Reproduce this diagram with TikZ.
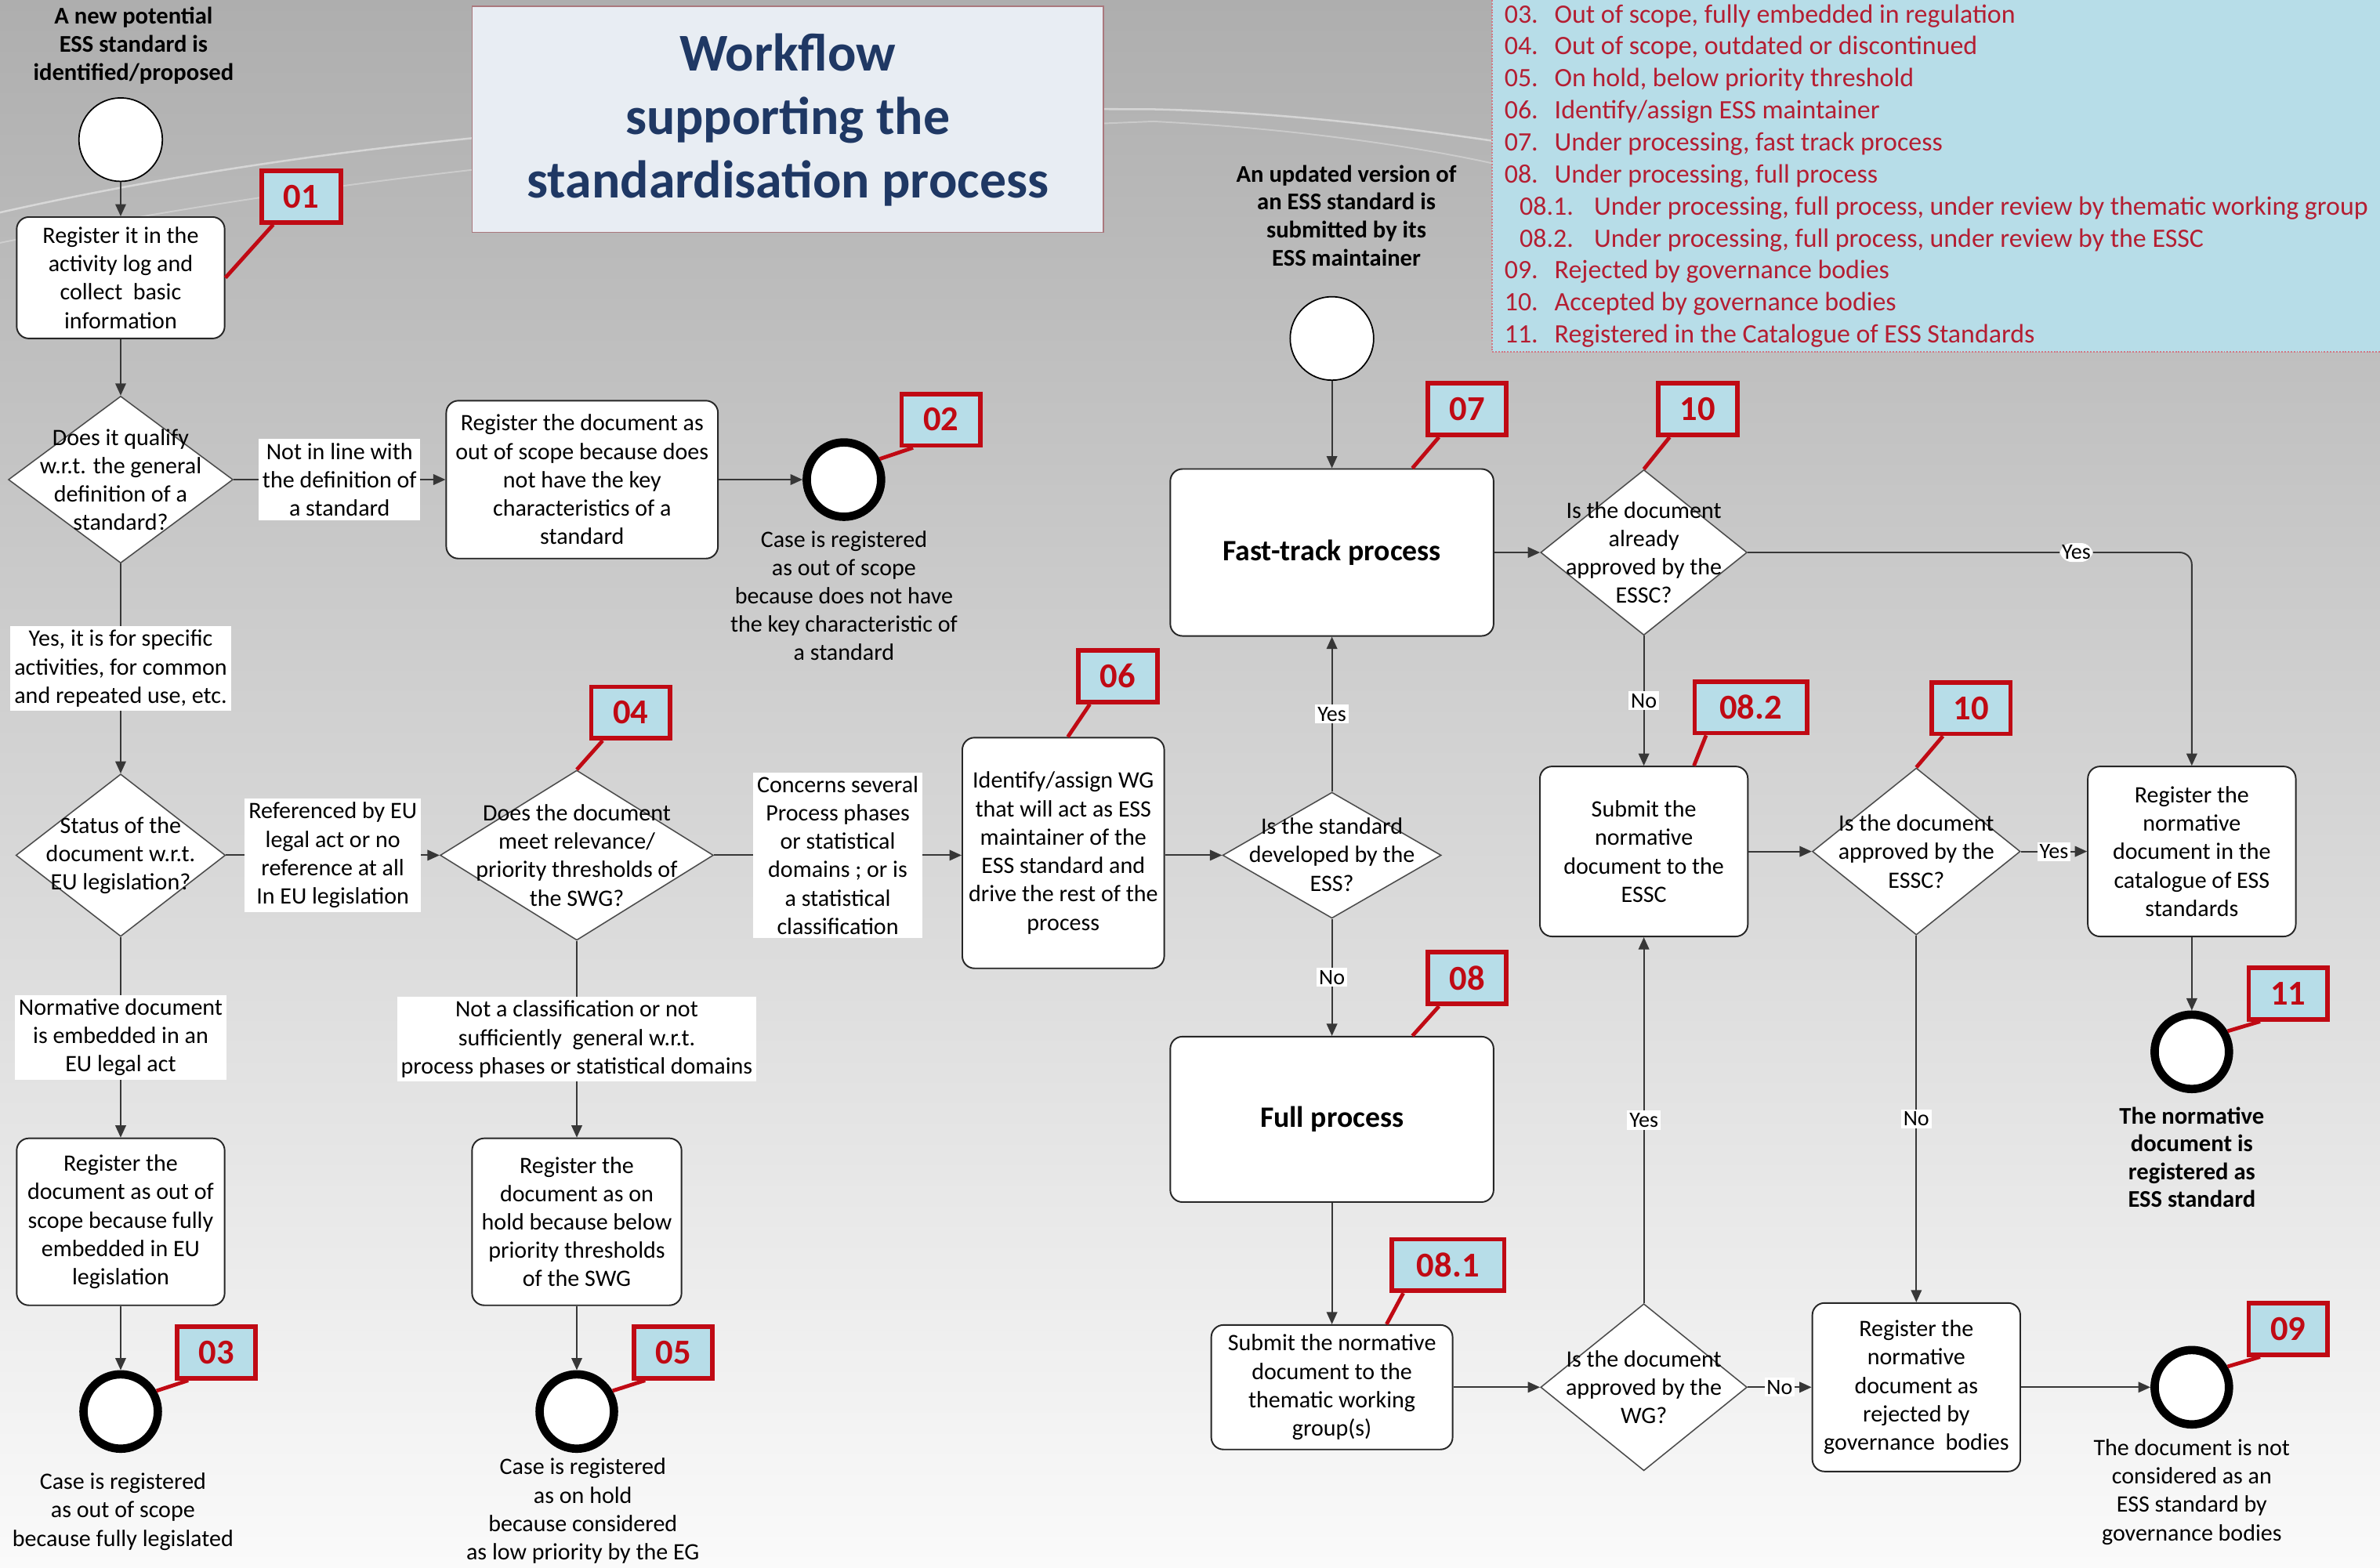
\documentclass[tikz,border=0pt]{standalone}
\usepackage{fontspec}
\setmainfont{Carlito}
\usetikzlibrary{shapes.geometric,arrows.meta,calc}

\definecolor{bgtop}{RGB}{174,174,174}
\definecolor{bgmid}{RGB}{212,212,212}
\definecolor{bgbot}{RGB}{250,250,250}
\definecolor{legfill}{RGB}{183,221,232}
\definecolor{legred}{RGB}{180,30,50}
\definecolor{badgered}{RGB}{192,10,20}
\definecolor{titlefill}{RGB}{232,237,243}
\definecolor{titleblue}{RGB}{31,56,100}
\definecolor{titleframe}{RGB}{170,120,125}
\definecolor{linegray}{RGB}{55,55,55}

\tikzset{
  base/.style={font=\fontsize{15.5}{18.7}\selectfont, align=center},
  box/.style={base, draw=black!85, line width=1pt, rounded corners=8pt, fill=white, inner sep=2pt},
  dia/.style={diamond, draw=black!70, line width=0.8pt, fill=white, inner sep=0pt},
  dtext/.style={base, inner sep=0pt},
  lbl/.style={base, fill=white, inner sep=2.5pt},
  yn/.style={font=\fontsize{14.5}{16}\selectfont, fill=white, inner sep=1.5pt},
  conn/.style={draw=linegray, line width=1pt, -{Triangle[length=8pt,width=7pt]}},
  startc/.style={circle, draw=black, line width=0.9pt, fill=white, minimum size=55pt, inner sep=0pt},
  endc/.style={circle, draw=black, line width=5.5pt, fill=white, minimum size=49pt, inner sep=0pt},
  badge/.style={draw=badgered, line width=3pt, fill=legfill, text=badgered, font=\bfseries\fontsize{23}{24}\selectfont, minimum height=34pt, minimum width=52pt, inner sep=0pt},
  badgew/.style={badge, minimum width=74pt},
  bline/.style={draw=badgered, line width=2.5pt},
  note/.style={base},
  bnote/.style={font=\bfseries\fontsize{15.8}{18.4}\selectfont, align=center},
  legtxt/.style={anchor=base west, inner sep=0pt, text=legred, font=\fontsize{17.5}{21}\selectfont},
  procbox/.style={box, font=\bfseries\fontsize{19.5}{22}\selectfont},
}

\begin{document}
\begin{tikzpicture}[x=1pt,y=-1pt]
\useasboundingbox (0,0) rectangle (1568,1032.6);
\fill[top color=bgtop, bottom color=bgbot, middle color=bgmid] (0,0) rectangle (1568,1032.6);
% swoosh
\draw[white, opacity=.45, line width=1.3pt] (0,140) .. controls (200,95) and (450,70) .. (760,72) .. controls (850,74) and (930,85) .. (985,93);
\draw[white, opacity=.3, line width=1pt] (0,160) .. controls (250,110) and (500,90) .. (760,80) .. controls (860,85) and (940,98) .. (985,108);

% legend
\fill[legfill] (983,-2) rectangle (1570,232);
\draw[legred!60, densely dotted, line width=1pt] (983,-2) -- (983,232) -- (1570,232);
\node[legtxt] (lg03) at (991,15) {\makebox[33pt][l]{03.}Out of scope, fully embedded in regulation};
\node[legtxt] (lg04) at (991,36.1) {\makebox[33pt][l]{04.}Out of scope, outdated or discontinued};
\node[legtxt] (lg05) at (991,57.2) {\makebox[33pt][l]{05.}On hold, below priority threshold};
\node[legtxt] (lg06) at (991,78.3) {\makebox[33pt][l]{06.}Identify/assign ESS maintainer};
\node[legtxt] (lg07) at (991,99.4) {\makebox[33pt][l]{07.}Under processing, fast track process};
\node[legtxt] (lg08) at (991,120.5) {\makebox[33pt][l]{08.}Under processing, full process};
\node[legtxt] (lg081) at (1001,141.6) {\makebox[49pt][l]{08.1.}Under processing, full process, under review by thematic working group};
\node[legtxt] (lg082) at (1001,162.7) {\makebox[49pt][l]{08.2.}Under processing, full process, under review by the ESSC};
\node[legtxt] (lg09) at (991,183.8) {\makebox[33pt][l]{09.}Rejected by governance bodies};
\node[legtxt] (lg10) at (991,204.9) {\makebox[33pt][l]{10.}Accepted by governance bodies};
\node[legtxt] (lg11) at (991,226) {\makebox[33pt][l]{11.}Registered in the Catalogue of ESS Standards};

% title
\node[draw=titleframe, line width=0.8pt, fill=titlefill, minimum width=416pt, minimum height=149pt, inner sep=0pt] (titlebox) at (519,78.5) {};
\node[text=titleblue, font=\bfseries\fontsize{35}{42}\selectfont, align=center] (title) at (519,79) {Workflow\\supporting the\\standardisation process};

% left column
\node[bnote] (st1) at (88,30) {A new potential\\ESS standard is\\identified/proposed};
\node[startc] (c1) at (79.5,92) {};
\node[box, minimum width=137pt, minimum height=80pt] (r01) at (79.5,183) {Register it in the\\activity log and\\collect~ basic\\information};
\node[dia, minimum width=148pt, minimum height=110pt] (q1) at (79.5,316) {};
\node[dtext] (q1t) at (79.5,316) {Does it qualify\\w.r.t. the general\\definition of a\\standard?};
\node[box, minimum width=179pt, minimum height=104pt] (r02) at (383.5,316) {Register the document as\\out of scope because does\\not have the key\\characteristics of a\\standard};
\node[endc] (e02) at (556,316) {};
\node[note] (n02) at (556,392.5) {Case is registered\\as out of scope\\because does not have\\the key characteristic of\\a standard};

\node[dia, minimum width=138pt, minimum height=107pt] (q2) at (79.5,563.5) {};
\node[dtext] (q2t) at (79.5,563.5) {Status of the\\document w.r.t.\\EU legislation?};
\node[dia, minimum width=180pt, minimum height=112pt] (q4) at (380,563.5) {};
\node[dtext] (q4t) at (380,563.5) {Does the document\\meet relevance/\\priority thresholds of\\the SWG?};
\node[box, minimum width=133pt, minimum height=152pt] (r06) at (700.5,562) {Identify/assign WG\\that will act as ESS\\maintainer of the\\ESS standard and\\drive the rest of the\\process};
\node[dia, minimum width=144pt, minimum height=83pt] (qE) at (877.5,563.5) {};
\node[dtext] (qEt) at (877.5,563) {Is the standard\\developed by the\\ESS?};

\node[box, minimum width=137pt, minimum height=110pt] (r03) at (79.5,805) {Register the\\document as out of\\scope because fully\\embedded in EU\\legislation};
\node[endc] (e03) at (79.5,930) {};
\node[note] (n03) at (81,996) {Case is registered\\as out of scope\\because fully legislated};
\node[box, minimum width=138pt, minimum height=110pt] (r05) at (380,805) {Register the\\document as on\\hold because below\\priority thresholds\\of the SWG};
\node[endc] (e05) at (380,930) {};
\node[note] (n05) at (384,995.5) {Case is registered\\as on hold\\because considered\\as low priority by the EG};

% right part
\node[bnote] (st2) at (887,142) {An updated version of\\an ESS standard is\\submitted by its\\ESS maintainer};
\node[startc] (c2) at (877.5,223) {};
\node[procbox, minimum width=213pt, minimum height=110pt] (ft) at (877.5,364) {Fast-track process};
\node[procbox, minimum width=213pt, minimum height=109pt] (fp) at (877.5,737.5) {Full process};

\node[dia, minimum width=136pt, minimum height=109pt] (qA) at (1083,364) {};
\node[dtext] (qAt) at (1083,364) {Is the document\\already\\approved by the\\ESSC?};
\node[box, minimum width=137pt, minimum height=112pt] (rS) at (1083,561) {Submit the\\normative\\document to the\\ESSC};
\node[dia, minimum width=137pt, minimum height=110pt] (qB) at (1262.5,561) {};
\node[dtext] (qBt) at (1262.5,561) {Is the document\\approved by the\\ESSC?};
\node[box, minimum width=137pt, minimum height=112pt] (rC) at (1444,561) {Register the\\normative\\document in the\\catalogue of ESS\\standards};
\node[endc] (e11) at (1444,693) {};
\node[bnote] (n11) at (1444,762.5) {The normative\\document is\\registered as\\ESS standard};

\node[box, minimum width=159pt, minimum height=82pt] (rW) at (877.5,914) {Submit the normative\\document to the\\thematic working\\group(s)};
\node[dia, minimum width=136pt, minimum height=110pt] (qW) at (1083,914) {};
\node[dtext] (qWt) at (1083,914) {Is the document\\approved by the\\WG?};
\node[box, minimum width=137pt, minimum height=111pt] (rR) at (1262.5,914) {Register the\\normative\\document as\\rejected by\\governance~ bodies};
\node[endc] (e09) at (1444,914) {};
\node[note] (n09) at (1444,983) {The document is not\\considered as an\\ESS standard by\\governance bodies};

% connectors
\draw[conn] (c1.south) -- (r01.north);
\draw[conn] (r01.south) -- (q1.north);
\draw[conn] (q1.east) -- node[lbl]{Not in line with\\the definition of\\a standard} (r02.west);
\draw[conn] (r02.east) -- (e02.west);
\draw[conn] (q1.south) -- node[lbl]{Yes, it is for specific\\activities, for common\\and repeated use, etc.} (q2.north);
\draw[conn] (q2.east) -- node[lbl]{Referenced by EU\\legal act or no\\reference at all\\In EU legislation} (q4.west);
\draw[conn] (q4.east) -- node[lbl]{Concerns several\\Process phases\\or statistical\\domains ; or is\\a statistical\\classification} (r06.west |- q4.east);
\draw[conn] (r06.east |- qE.west) -- (qE.west);
\draw[conn] (q2.south) -- node[lbl]{Normative document\\is embedded in an\\EU legal act} (r03.north);
\draw[conn] (r03.south) -- (e03.north);
\draw[conn] (q4.south) -- node[lbl]{Not a classification or not\\sufficiently~ general w.r.t.\\process phases or statistical domains} (r05.north);
\draw[conn] (r05.south) -- (e05.north);

\draw[conn] (qE.north) -- node[yn]{Yes} (ft.south);
\draw[conn] (qE.south) -- node[yn]{No} (fp.north);
\draw[conn] (c2.south) -- (ft.north);
\draw[conn] (ft.east) -- (qA.west);
\draw[conn, rounded corners=8pt] (qA.east) -- node[yn, pos=0.74]{Yes} (qA.east -| rC.north) -- (rC.north);
\draw[conn] (qA.south) -- node[yn]{No} (rS.north);
\draw[conn] (rS.east) -- (qB.west);
\draw[conn] (qB.east) -- node[yn]{Yes} (rC.west);
\draw[conn] (rC.south) -- (e11.north);
\draw[conn] (qB.south) -- node[yn]{No} (rR.north);
\draw[conn] (fp.south) -- (rW.north);
\draw[conn] (rW.east) -- (qW.west);
\draw[conn] (qW.north) -- node[yn]{Yes} (rS.south);
\draw[conn] (qW.east) -- node[yn]{No} (rR.west);
\draw[conn] (rR.east) -- (e09.west);

% badges
\node[badge] (b01) at (198.5,129.5) {01};
\node[badge] (b02) at (620,276.5) {02};
\node[badge] (b03) at (142.5,891) {03};
\node[badge] (b04) at (415.5,469.5) {04};
\node[badge] (b05) at (443.5,891) {05};
\node[badge] (b06) at (736.5,445.5) {06};
\node[badge] (b07) at (966.5,269.5) {07};
\node[badge] (b10a) at (1118.5,269.5) {10};
\node[badgew] (b082) at (1153.5,466) {08.2};
\node[badge] (b10b) at (1298.5,466.5) {10};
\node[badge] (b11) at (1507.5,654.5) {11};
\node[badge] (b08) at (966.5,644.5) {08};
\node[badgew] (b081) at (954,833.5) {08.1};
\node[badge] (b09) at (1507.5,875.5) {09};

\draw[bline] ([xshift=9pt]b01.south west) -- (r01.east);
\draw[bline] ([xshift=9pt]b02.south west) -- (e02.30);
\draw[bline] ([xshift=9pt]b03.south west) -- (e03.30);
\draw[bline] ([xshift=9pt]b04.south west) -- (q4.north);
\draw[bline] ([xshift=9pt]b05.south west) -- (e05.30);
\draw[bline] ([xshift=9pt]b06.south west) -- ([xshift=3pt]r06.north);
\draw[bline] ([xshift=9pt]b07.south west) -- ([xshift=53pt]ft.north);
\draw[bline] ([xshift=9pt]b10a.south west) -- (qA.north);
\draw[bline] ([xshift=9pt]b082.south west) -- ([xshift=33pt]rS.north);
\draw[bline] ([xshift=9pt]b10b.south west) -- (qB.north);
\draw[bline] ([xshift=9pt]b11.south west) -- (e11.30);
\draw[bline] ([xshift=9pt]b08.south west) -- ([xshift=53pt]fp.north);
\draw[bline] ([xshift=9pt]b081.south west) -- ([xshift=36pt]rW.north);
\draw[bline] ([xshift=9pt]b09.south west) -- (e09.30);
\end{tikzpicture}
\end{document}
